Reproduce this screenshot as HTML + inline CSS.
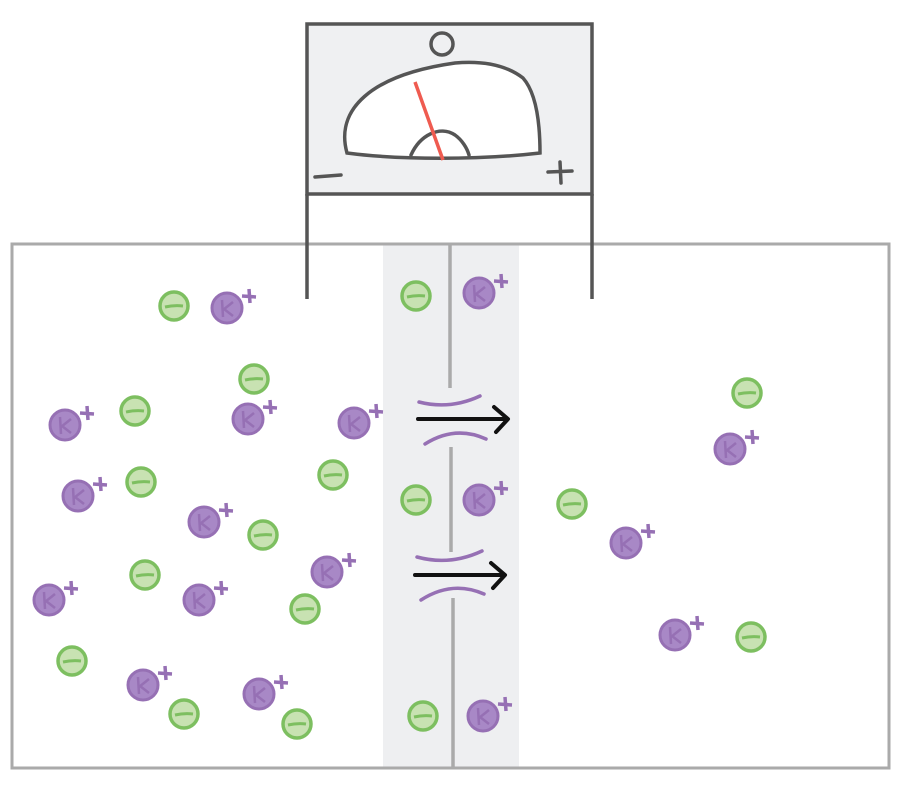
<!DOCTYPE html>
<html><head><style>body{margin:0;background:#fff}svg{display:block}</style></head><body>
<svg width="910" height="785" viewBox="0 0 910 785" xmlns="http://www.w3.org/2000/svg">
<defs>
<g id="g"><circle r="14" fill="#c8e2b2" stroke="#7dbf60" stroke-width="3.5"/><path d="M-9 1 Q0 -1 9 0" stroke="#7dbf60" stroke-width="3" fill="none"/></g>
<g id="k"><circle r="15" fill="#a888c6" stroke="#9670b4" stroke-width="3"/><path d="M-5 -8 L-4 9 M-4 2 L6 -6 M-3 1 L6 8" stroke="#9670b4" stroke-width="2.5" fill="none"/><path d="M22 -19 L23 -5 M15 -12 L29 -11" stroke="#9670b4" stroke-width="3.5" fill="none"/></g>
</defs>
<rect x="383" y="245" width="136" height="523" fill="#eeeff1"/>
<rect x="12" y="244" width="877" height="524" fill="none" stroke="#aaa" stroke-width="3"/>
<path d="M450 245 L450 388 M451 447 L451 552 M453 598 L453 768" stroke="#aaa" stroke-width="3.5"/>
<g stroke="#9670b4" stroke-width="3.5" fill="none" stroke-linecap="round">
<path d="M419 402 Q450 410 480 396"/><path d="M425 444 Q455 425 486 439"/>
<path d="M417 557 Q450 566 482 551"/><path d="M421 600 Q452 580 484 594"/>
</g>
<g stroke="#111" stroke-width="4" fill="none" stroke-linecap="round" stroke-linejoin="round">
<path d="M418 419 L506 419 M494 407 L508 419 L496 432"/>
<path d="M415 575 L503 575 M491 563 L505 575 L493 588"/>
</g>
<rect x="307" y="24" width="285" height="170" fill="#eff0f2" stroke="#555" stroke-width="3.5"/>
<path d="M307 194 L307 299 M592 194 L592 299" stroke="#555" stroke-width="3.5"/>
<g stroke="#555" stroke-width="3.5" fill="none" stroke-linecap="round">
<circle cx="442" cy="44" r="11"/>
<path d="M347 153 C335 110 370 75 455 63 C490 60 510 68 523 78 C538 95 540 130 540 153 C480 160 400 160 347 153 Z" fill="#fff"/>
<path d="M411 155 C420 135 440 125 455 135 C462 140 467 148 469 155"/>
<path d="M315 177 L341 175 M548 172 L572 171 M560 162 L561 183"/>
</g>
<path d="M415 82 L443 160" stroke="#ef5b50" stroke-width="3.5"/>
<g>
<use href="#g" x="174" y="306"/><use href="#g" x="254" y="379"/><use href="#g" x="135" y="411"/><use href="#g" x="141" y="482"/>
<use href="#g" x="333" y="475"/><use href="#g" x="263" y="535"/><use href="#g" x="145" y="575"/><use href="#g" x="305" y="609"/>
<use href="#g" x="72" y="661"/><use href="#g" x="184" y="714"/><use href="#g" x="297" y="724"/><use href="#g" x="416" y="296"/>
<use href="#g" x="416" y="500"/><use href="#g" x="572" y="504"/><use href="#g" x="747" y="393"/><use href="#g" x="751" y="637"/>
<use href="#g" x="423" y="716"/>
<use href="#k" x="227" y="308"/><use href="#k" x="248" y="419"/><use href="#k" x="354" y="423"/><use href="#k" x="65" y="425"/>
<use href="#k" x="78" y="496"/><use href="#k" x="204" y="522"/><use href="#k" x="327" y="572"/><use href="#k" x="49" y="600"/>
<use href="#k" x="199" y="600"/><use href="#k" x="143" y="685"/><use href="#k" x="259" y="694"/><use href="#k" x="479" y="293"/>
<use href="#k" x="479" y="500"/><use href="#k" x="483" y="716"/><use href="#k" x="730" y="449"/><use href="#k" x="626" y="543"/>
<use href="#k" x="675" y="635"/>
</g>
</svg>
</body></html>
